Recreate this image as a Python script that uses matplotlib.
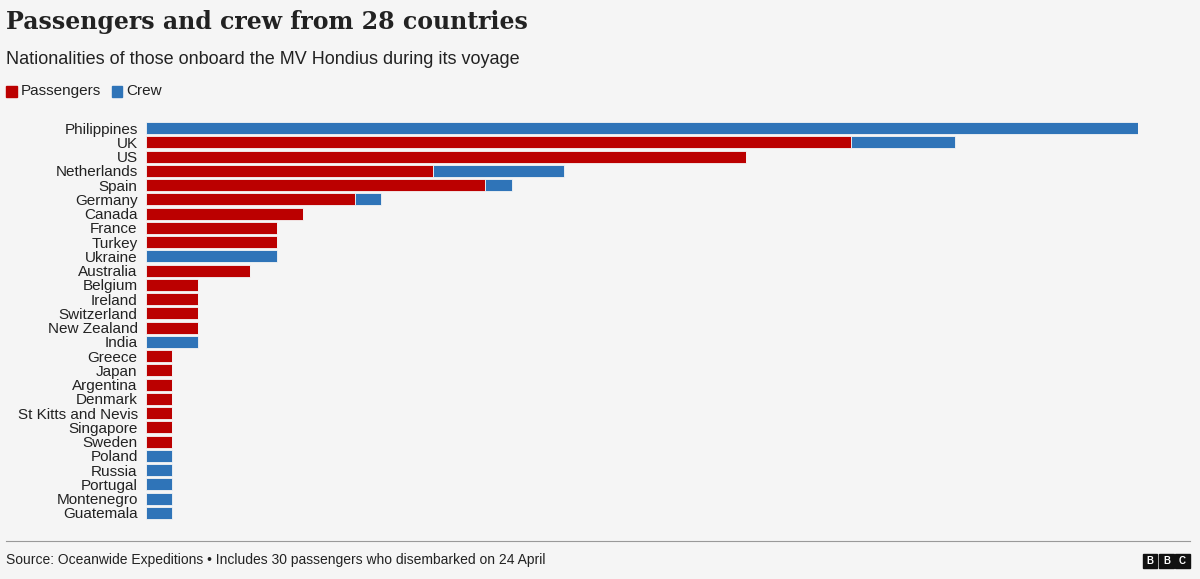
import matplotlib
matplotlib.use("Agg")
import matplotlib.pyplot as plt
from matplotlib.patches import Rectangle

countries = ["Philippines","UK","US","Netherlands","Spain","Germany","Canada","France","Turkey","Ukraine",
             "Australia","Belgium","Ireland","Switzerland","New Zealand","India","Greece","Japan","Argentina",
             "Denmark","St Kitts and Nevis","Singapore","Sweden","Poland","Russia","Portugal","Montenegro","Guatemala"]
passengers = [0,27,23,11,13,8,6,5,5,0,4,2,2,2,2,0,1,1,1,1,1,1,1,0,0,0,0,0]
crew       = [38,4,0,5,1,1,0,0,0,5,0,0,0,0,0,2,0,0,0,0,0,0,0,1,1,1,1,1]

RED = "#bb0000"; BLUE = "#2f74b8"; BG = "#f5f5f5"
plt.rcParams['font.family'] = ['Liberation Sans', 'DejaVu Sans']
fig = plt.figure(figsize=(12, 5.79), dpi=100, facecolor=BG)
ax = fig.add_axes([0.1217, 0.102, 0.8267, 0.689])
ax.set_facecolor(BG)
y = list(range(len(countries)))
ax.barh(y, passengers, height=0.85, color=RED, edgecolor=BG, linewidth=0.6)
ax.barh(y, crew, left=passengers, height=0.85, color=BLUE, edgecolor=BG, linewidth=0.6)
ax.set_xlim(0, 38)
ax.set_ylim(len(countries) - 0.5, -0.5)
ax.set_yticks(y)
ax.set_yticklabels(countries, fontsize=11, color="#222222")
ax.tick_params(axis='y', length=0, pad=6)
ax.set_xticks([])
for s in ax.spines.values():
    s.set_visible(False)

fig.text(0.005, 0.962, "Passengers and crew from 28 countries", fontsize=17, fontweight='bold',
         family=['DejaVu Serif'], color="#222222", va='center')
fig.text(0.005, 0.898, "Nationalities of those onboard the MV Hondius during its voyage", fontsize=13,
         color="#222222", va='center')
fig.patches.append(Rectangle((0.005, 0.832), 0.009, 0.02, transform=fig.transFigure, color=RED))
fig.text(0.017, 0.843, "Passengers", fontsize=11, color="#222222", va='center')
fig.patches.append(Rectangle((0.093, 0.832), 0.009, 0.02, transform=fig.transFigure, color=BLUE))
fig.text(0.105, 0.843, "Crew", fontsize=11, color="#222222", va='center')
fig.add_artist(plt.Line2D([0.005, 0.992], [0.066, 0.066], transform=fig.transFigure, color="#999999", lw=0.8))
fig.text(0.005, 0.032, "Source: Oceanwide Expeditions • Includes 30 passengers who disembarked on 24 April",
         fontsize=10, color="#222222", va='center')
for i, ch in enumerate("BBC"):
    x0 = 0.9525 + i * 0.0135
    fig.patches.append(Rectangle((x0, 0.019), 0.012, 0.025, transform=fig.transFigure, color="#111111"))
    fig.text(x0 + 0.006, 0.0315, ch, fontsize=7, fontweight='bold', color="white", ha='center', va='center')
fig.savefig("out.png", dpi=100, facecolor=BG)
